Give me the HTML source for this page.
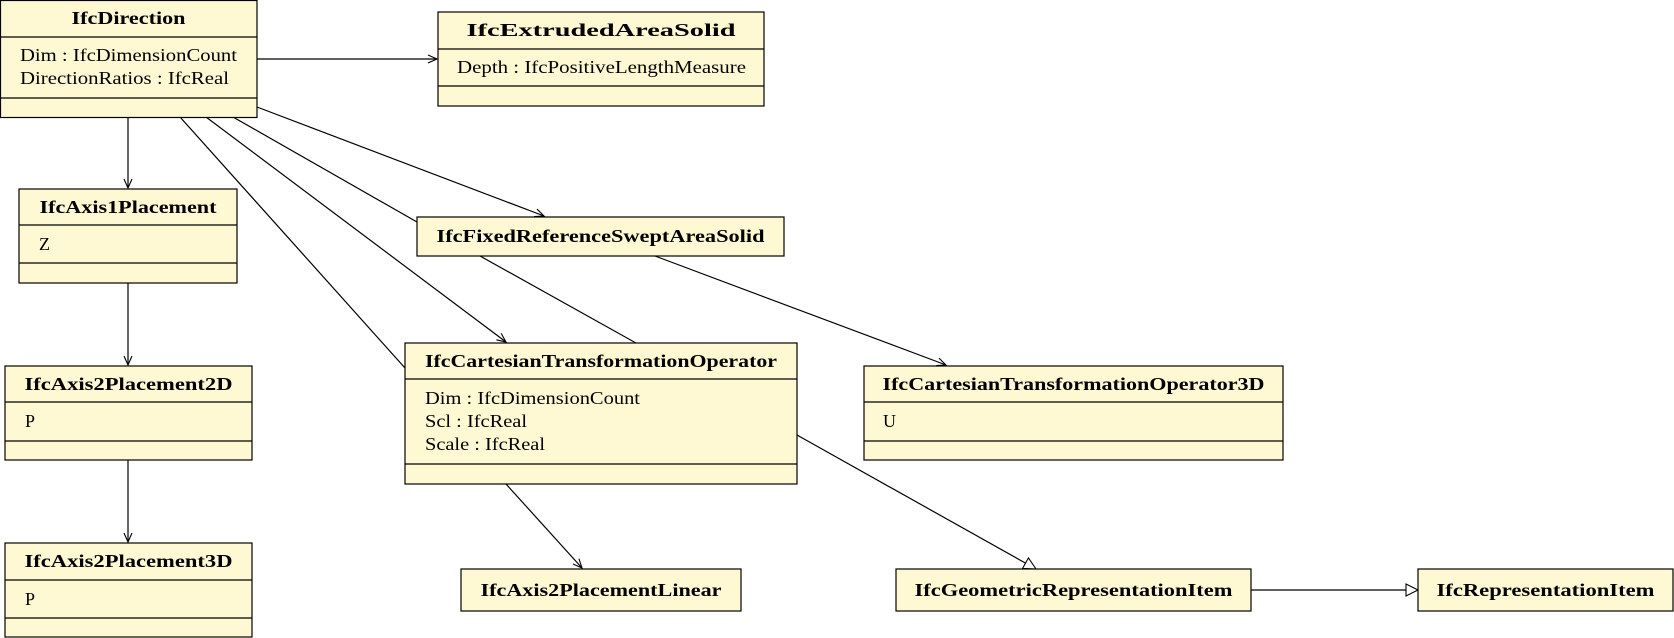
<!DOCTYPE html>
<html><head><meta charset="utf-8"><style>
html,body{margin:0;padding:0;background:#fff;}
svg{display:block;}
text{font-family:"Liberation Serif",serif;font-size:18px;fill:#000;}
.t{font-weight:bold;text-anchor:middle;}
</style></head><body>
<svg width="1674" height="638" viewBox="0 0 1674 638" xmlns="http://www.w3.org/2000/svg">
<defs>
<marker id="a" markerWidth="12" markerHeight="12" refX="10" refY="5" orient="auto" markerUnits="userSpaceOnUse"><path d="M1,1 L10,5 L1,9" fill="none" stroke="#000" stroke-width="1.1"/></marker>
<marker id="g" markerWidth="16" markerHeight="16" refX="13" refY="7" orient="auto" markerUnits="userSpaceOnUse"><path d="M1,1 L13,7 L1,13 Z" fill="#fff" stroke="#000" stroke-width="1.1"/></marker>
</defs>
<g stroke="#000" stroke-width="1.2" fill="none">
<line x1="257" y1="59" x2="437" y2="59" marker-end="url(#a)"/>
<line x1="128" y1="117" x2="128" y2="188" marker-end="url(#a)"/>
<line x1="257" y1="107" x2="544" y2="216" marker-end="url(#a)"/>
<line x1="233" y1="117" x2="417" y2="222"/>
<line x1="206" y1="117" x2="506" y2="342" marker-end="url(#a)"/>
<line x1="180" y1="117" x2="405" y2="368"/>
<line x1="480" y1="256" x2="636" y2="343"/>
<line x1="655" y1="256" x2="946" y2="365" marker-end="url(#a)"/>
<line x1="128" y1="283" x2="128" y2="365" marker-end="url(#a)"/>
<line x1="128" y1="460" x2="128" y2="542" marker-end="url(#a)"/>
<line x1="797" y1="435" x2="1036" y2="569" marker-end="url(#g)"/>
<line x1="506" y1="484" x2="582" y2="568" marker-end="url(#a)"/>
<line x1="1251" y1="590" x2="1418" y2="590" marker-end="url(#g)"/>
</g>
<g fill="#fef9d3" stroke="#000" stroke-width="1.2">
<rect x="0.5" y="0.5" width="256.5" height="117"/>
<line x1="0" y1="37" x2="257" y2="37"/><line x1="0" y1="98" x2="257" y2="98"/>
<rect x="438" y="12" width="326" height="94"/>
<line x1="438" y1="49" x2="764" y2="49"/><line x1="438" y1="86" x2="764" y2="86"/>
<rect x="19" y="189" width="218" height="94"/>
<line x1="19" y1="225" x2="237" y2="225"/><line x1="19" y1="263" x2="237" y2="263"/>
<rect x="417" y="217" width="367" height="39"/>
<rect x="5" y="366" width="247" height="94"/>
<line x1="5" y1="402" x2="252" y2="402"/><line x1="5" y1="441" x2="252" y2="441"/>
<rect x="405" y="343" width="392" height="141"/>
<line x1="405" y1="379" x2="797" y2="379"/><line x1="405" y1="464" x2="797" y2="464"/>
<rect x="864" y="366" width="419" height="94"/>
<line x1="864" y1="402" x2="1283" y2="402"/><line x1="864" y1="441" x2="1283" y2="441"/>
<rect x="5" y="543" width="247" height="94"/>
<line x1="5" y1="580" x2="252" y2="580"/><line x1="5" y1="618" x2="252" y2="618"/>
<rect x="461" y="569" width="280" height="42"/>
<rect x="896" y="569" width="355" height="42"/>
<rect x="1418" y="569" width="255" height="42"/>
</g>
<g stroke="none">
<text class="t" x="128.5" y="24" textLength="114" lengthAdjust="spacingAndGlyphs">IfcDirection</text>
<text x="20" y="61" textLength="217" lengthAdjust="spacingAndGlyphs">Dim : IfcDimensionCount</text>
<text x="20" y="84" textLength="209" lengthAdjust="spacingAndGlyphs">DirectionRatios : IfcReal</text>
<text class="t" x="601" y="36" textLength="269" lengthAdjust="spacingAndGlyphs">IfcExtrudedAreaSolid</text>
<text x="457" y="73" textLength="289" lengthAdjust="spacingAndGlyphs">Depth : IfcPositiveLengthMeasure</text>
<text class="t" x="128" y="213" textLength="177" lengthAdjust="spacingAndGlyphs">IfcAxis1Placement</text>
<text x="39" y="250">Z</text>
<text class="t" x="600.5" y="242" textLength="328" lengthAdjust="spacingAndGlyphs">IfcFixedReferenceSweptAreaSolid</text>
<text class="t" x="128.5" y="390" textLength="208" lengthAdjust="spacingAndGlyphs">IfcAxis2Placement2D</text>
<text x="25" y="427">P</text>
<text class="t" x="601" y="367" textLength="352" lengthAdjust="spacingAndGlyphs">IfcCartesianTransformationOperator</text>
<text x="425" y="404" textLength="215" lengthAdjust="spacingAndGlyphs">Dim : IfcDimensionCount</text>
<text x="425" y="427" textLength="102" lengthAdjust="spacingAndGlyphs">Scl : IfcReal</text>
<text x="425" y="450" textLength="120" lengthAdjust="spacingAndGlyphs">Scale : IfcReal</text>
<text class="t" x="1073.5" y="390" textLength="382" lengthAdjust="spacingAndGlyphs">IfcCartesianTransformationOperator3D</text>
<text x="883" y="427">U</text>
<text class="t" x="128.5" y="567" textLength="208" lengthAdjust="spacingAndGlyphs">IfcAxis2Placement3D</text>
<text x="25" y="605">P</text>
<text class="t" x="601" y="596" textLength="241" lengthAdjust="spacingAndGlyphs">IfcAxis2PlacementLinear</text>
<text class="t" x="1073.5" y="596" textLength="318" lengthAdjust="spacingAndGlyphs">IfcGeometricRepresentationItem</text>
<text class="t" x="1545.5" y="596" textLength="218" lengthAdjust="spacingAndGlyphs">IfcRepresentationItem</text>
</g>
</svg>
</body></html>
